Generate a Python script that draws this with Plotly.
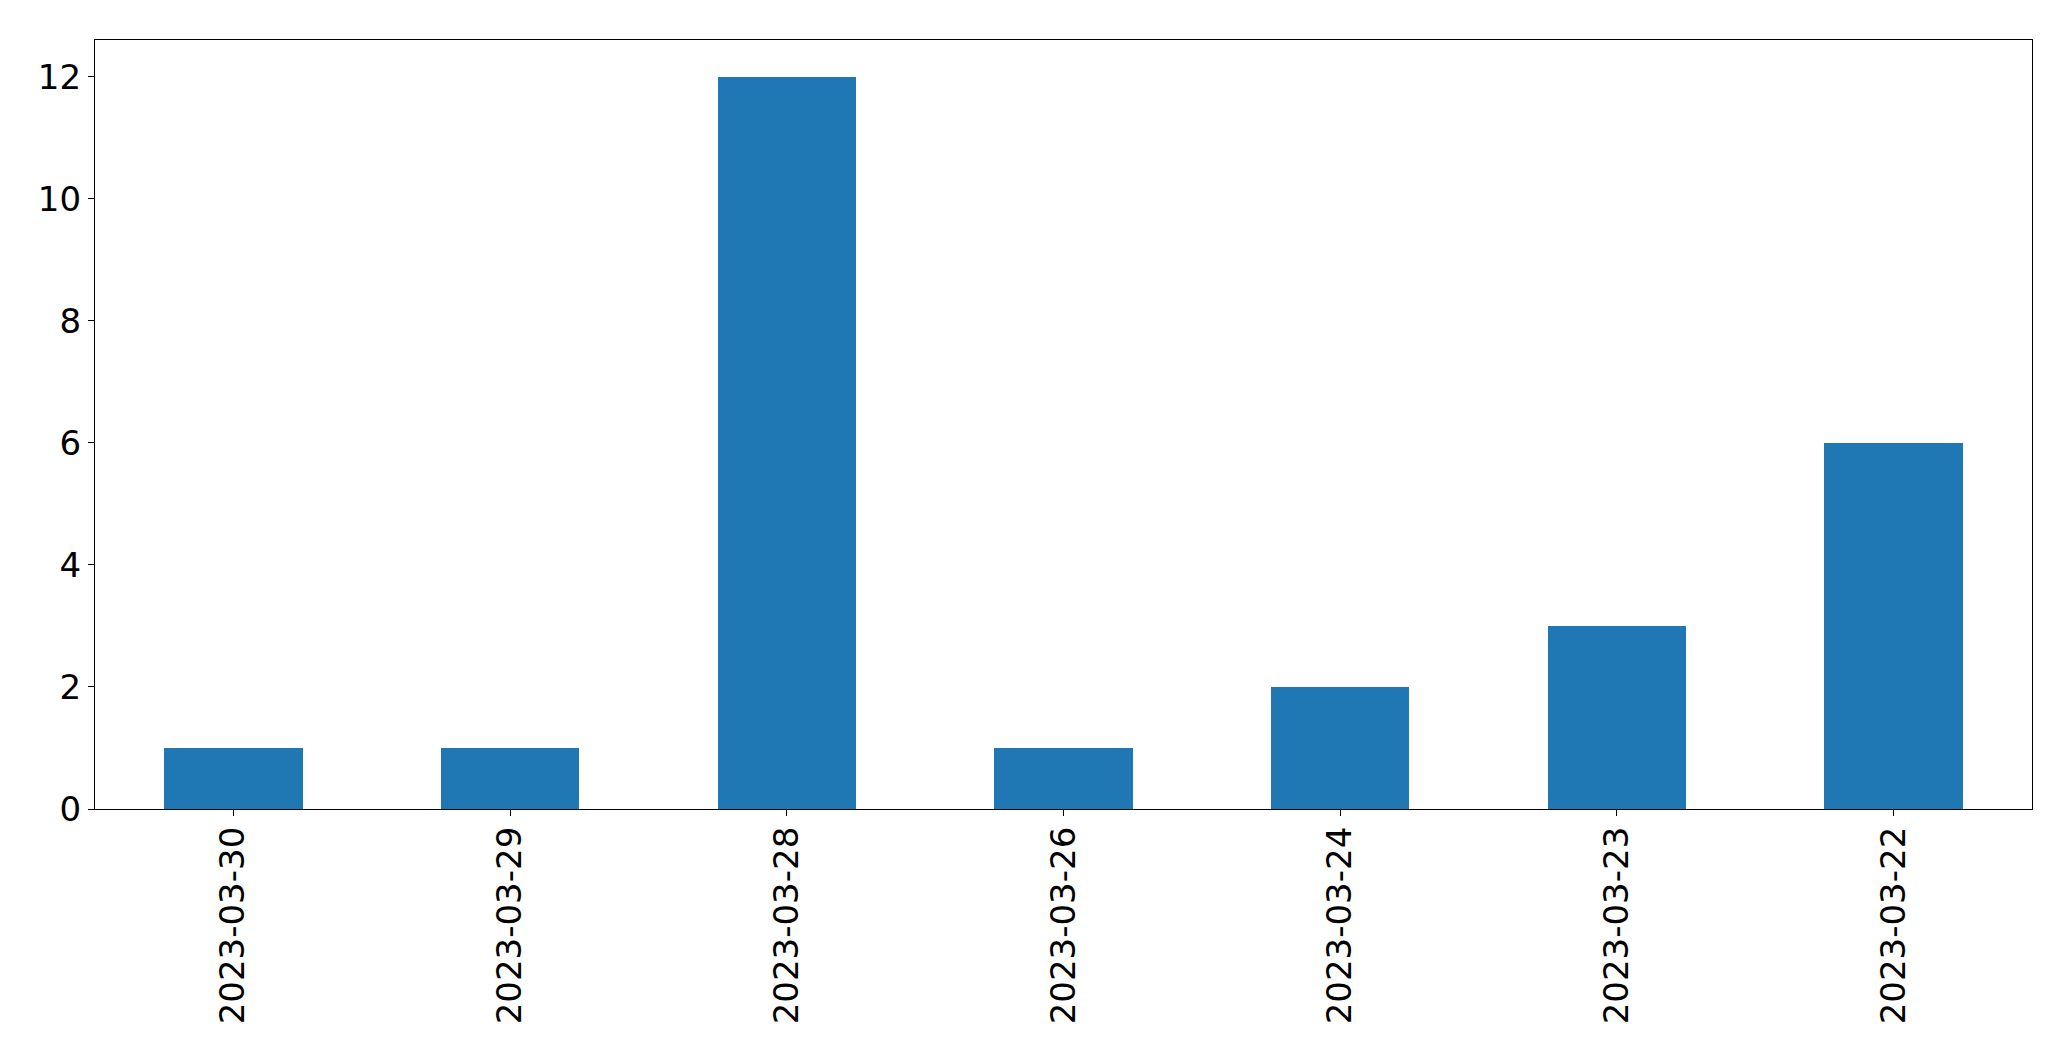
import plotly.graph_objects as go

dates = ["2023-03-30", "2023-03-29", "2023-03-28", "2023-03-26", "2023-03-24", "2023-03-23", "2023-03-22"]
counts = [1, 1, 12, 1, 2, 3, 6]
y_ticks = [0, 2, 4, 6, 8, 10, 12]

# page body has an 8px default margin; compensate so the plot lands at the reference position
W, H = 2063, 1053
fig = go.Figure(go.Bar(x=dates, y=counts, width=0.5, marker=dict(color="#1f77b4", line=dict(width=0))))

font = dict(family="DejaVu Sans", size=34, color="black")
fig.update_layout(
    width=W, height=H,
    margin=dict(l=86.5, r=39, t=31.5, b=252, pad=0),
    paper_bgcolor="white", plot_bgcolor="white",
    showlegend=False, bargap=0,
    font=font,
)
fig.update_xaxes(
    type="category", range=[-0.5, 6.5], tickangle=-90, automargin=False,
    showline=True, mirror=True, linecolor="black", linewidth=1.3,
    ticks="outside", ticklen=6, tickwidth=1.3, tickcolor="black",
    ticklabelstandoff=-3,
    showgrid=False, zeroline=False, tickfont=font,
)
fig.update_yaxes(
    range=[0, 12.6], tickvals=y_ticks, ticktext=[str(v) for v in y_ticks], automargin=False,
    showline=True, mirror=True, linecolor="black", linewidth=1.3,
    ticks="outside", ticklen=6, tickwidth=1.3, tickcolor="black",
    showgrid=False, zeroline=False, tickfont=font,
)
fig.write_html("out.html")
